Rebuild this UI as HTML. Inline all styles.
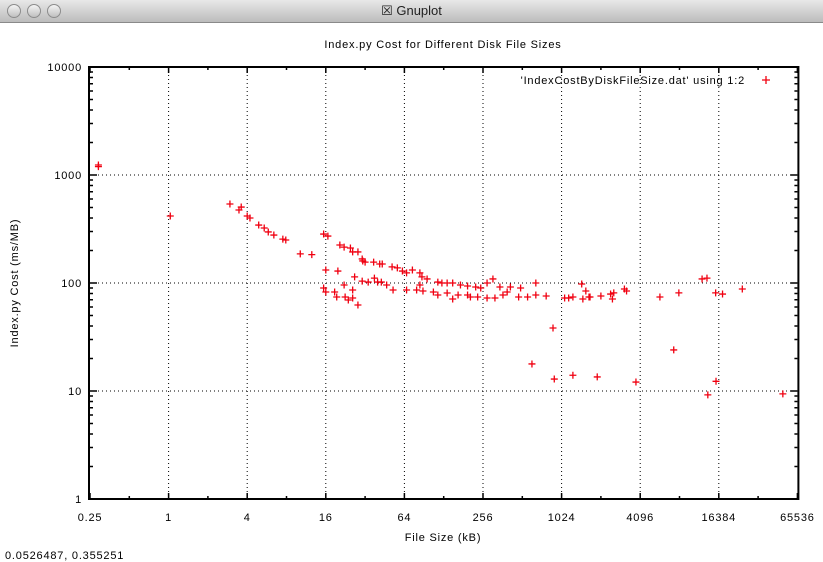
<!DOCTYPE html>
<html><head><meta charset="utf-8"><style>
html,body{margin:0;padding:0;background:#fff;width:823px;height:562px;overflow:hidden}
#win{position:absolute;left:0;top:0;width:823px;height:562px}
#titlebar{position:absolute;left:0;top:0;width:823px;height:22px;background:linear-gradient(#e8e8e8,#bcbcbc);border-bottom:1px solid #8a8a8a}
.btn{position:absolute;top:4px;width:12px;height:12px;border-radius:50%;background:linear-gradient(#f4f4f4,#c0c0c0);border:1px solid #8c8c8c}
#wtitle{position:absolute;left:0;width:823px;top:3px;text-align:center;font:13px "Liberation Sans",sans-serif;color:#222}
svg{position:absolute;left:0;top:0}
text{font-family:"Liberation Sans",sans-serif;font-size:11px;letter-spacing:0.8px;fill:#000}
</style></head><body>
<div id="win">
<div id="titlebar">
<div class="btn" style="left:7px"></div>
<div class="btn" style="left:27px"></div>
<div class="btn" style="left:47px"></div>
<div id="wtitle">&#x2612; Gnuplot</div>
</div>
<svg id="chart" width="823" height="562">
<text x="443" y="48" text-anchor="middle">Index.py Cost for Different Disk File Sizes</text>
<text x="443" y="541" text-anchor="middle">File Size (kB)</text>
<text x="18" y="283" text-anchor="middle" transform="rotate(-90 18 283)">Index.py Cost (ms/MB)</text>
<text x="5" y="559">0.0526487,  0.355251</text>
<g id="legend">
<text x="745" y="84" text-anchor="end">'IndexCostByDiskFileSize.dat' using 1:2</text>
</g>
</svg>
</div>
<script>
const xTicks=[0.25,1,4,16,64,256,1024,4096,16384,65536];
const xTickLabels=["0.25","1","4","16","64","256","1024","4096","16384","65536"];
const yTicks=[1,10,100,1000,10000];
const yTickLabels=["1","10","100","1000","10000"];
const xs=[0.29,0.29,1.03,2.95,3.46,3.6,4.0,4.2,4.9,5.4,5.8,6.4,7.5,7.9,10.2,12.5,
15.4,16.6,16,19.8,20.5,22.1,24.7,25.7,28.2,30.4,30.7,32.0,37.2,41.4,43.3,51.5,56.5,61.8,66.5,73.7,84.1,87.2,95.5,115.4,124,136,150,172,195,225,246,275,305,345,415,497,650,1460,
15.4,16,18.7,19.4,22.5,23.8,25.7,28.2,22.1,25.7,26.6,30.4,33.8,37.7,39.9,42.6,46.8,52.4,66.5,79.4,84.1,88.8,106.7,115.4,136,150,165,195,205,233,275,316,364,392,480,562,650,780,880,1160,1490,1690,
1080,1250,1570,1660,2048,2430,2510,2570,3100,3220,5800,8100,12200,13300,15500,17500,24800,
607,900,1250,1920,3800,7400,13500,15600,50700];
const ys=[1238,1195,417,539,474,505,417,400,344,323,297,278,255,250,186,183,
284,272,132,129,225,215,211,194,194,167,160,156,156,150,150,141,138,129,124,132,124,114,109,102,100,100,100,95.8,93.8,91.8,89.9,100,109,91.8,91.8,89.9,100,97.9,
89.9,82.5,82.5,74.2,74.2,69.6,72.6,62.6,95.8,86.1,114,104,102,111,102,102,95.8,86.1,86.1,86.1,95.8,84.3,82.5,77.4,80.8,71.1,77.4,77.4,74.2,74.2,72.6,72.6,77.4,82.5,74.2,74.2,77.4,75.8,38.3,72.6,71.1,74.2,
72.6,74.2,84.3,74.2,75.8,79,71.1,81,88,84.3,74.2,81,109,111,81,79,88,
17.8,12.9,14.0,13.5,12.1,24,9.2,12.3,9.4];
const L=90,R=797.4,T=67,B=499;
const X=v=>L+(R-L)*(Math.log2(v)-Math.log2(xTicks[0]))/(Math.log2(xTicks[xTicks.length-1])-Math.log2(xTicks[0]));
const Y=v=>B-(B-T)*(Math.log10(v)-Math.log10(yTicks[0]))/(Math.log10(yTicks[yTicks.length-1])-Math.log10(yTicks[0]));
const NS="http://www.w3.org/2000/svg";
const svg=document.getElementById('chart');
function mk(tag,attrs,parent){const e=document.createElementNS(NS,tag);for(const k in attrs)e.setAttribute(k,attrs[k]);(parent||svg).appendChild(e);return e;}
const grid=mk('g',{});


xTicks.forEach((t,i)=>{const x=X(t);
 if(i>0&&i<xTicks.length-1){const l=mk('line',{x1:x,y1:T,x2:x,y2:B,stroke:'#000','stroke-width':1,'stroke-dasharray':'1 3'},grid);
 
 }
 const tk=mk('path',{d:`M${x},${B}v-6M${x},${T}v6`,stroke:'#000','stroke-width':1.5});
 
 
 if(i<xTicks.length-1){const m=X(t*2);const mt=mk('path',{d:`M${m},${B}v-3M${m},${T}v3`,stroke:'#000','stroke-width':1.5});
 
 }
 const lb=mk('text',{x:x,y:521,'text-anchor':'middle'});lb.textContent=xTickLabels[i];
 
 
});
yTicks.forEach((t,i)=>{const y=Y(t);
 if(i>0&&i<yTicks.length-1){const l=mk('line',{x1:L,y1:y,x2:R,y2:y,stroke:'#000','stroke-width':1,'stroke-dasharray':'1 3'},grid);
 
 }
 const tk=mk('path',{d:`M${L},${y}h7M${R},${y}h-7`,stroke:'#000','stroke-width':1.5});
 
 
 if(i<yTicks.length-1){for(let k=2;k<10;k++){const m=Y(t*k);const mt=mk('path',{d:`M${L},${m}h3M${R},${m}h-3`,stroke:'#000','stroke-width':1.5});
 
 }}
 const lb=mk('text',{x:L-8,y:y+4,'text-anchor':'end'});lb.textContent=yTickLabels[i];
 
 
});
const frame=mk('rect',{x:L-1,y:T,width:R-L+2,height:B-T,fill:'none',stroke:'#000','stroke-width':2});


const pts=mk('g',{stroke:'#f00010','stroke-width':1.3});


for(let i=0;i<xs.length;i++){const x=X(xs[i]),y=Y(ys[i]);
 const p=mk('path',{d:`M${x-3.5},${y}h7M${x},${y-3.5}v7`},pts);
 
 
}
const lg=document.getElementById('legend');
const lm=mk('path',{d:'M762,80h8M766,76v8',stroke:'#f00010','stroke-width':1.3},lg);


</script>
</body></html>
